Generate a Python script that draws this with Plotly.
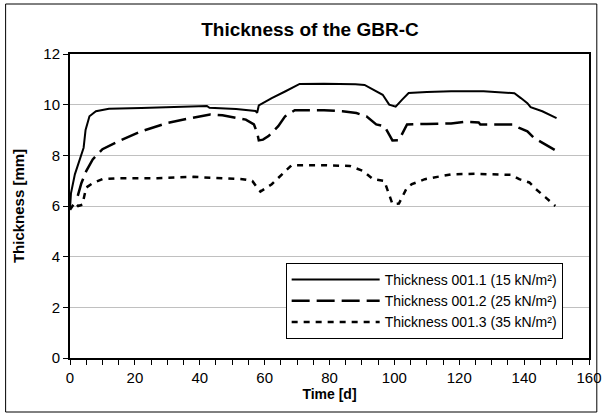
import plotly.graph_objects as go

# Series 1: Thickness 001.1 (15 kN/m²)
s1_time = [0, 0.3, 1.5, 3.5, 4.2, 4.8, 6, 8, 12, 22, 30, 39, 42.2, 43, 51.2, 57.2, 57.7, 58.2, 62.2, 66.3,
           70.8, 78.3, 85.3, 88, 90.8, 93.4, 96.4, 98.4, 100.4, 102.4, 104.4, 110, 117.5, 127.5, 132, 137,
           139, 141, 142, 145.6, 150]
s1_thick = [5.9, 6.5, 7.25, 7.97, 8.3, 9.0, 9.54, 9.74, 9.84, 9.87, 9.9, 9.93, 9.95, 9.88, 9.83, 9.75, 9.68,
            9.97, 10.26, 10.52, 10.82, 10.83, 10.82, 10.81, 10.78, 10.59, 10.39, 10.0, 9.92, 10.2, 10.46,
            10.5, 10.53, 10.53, 10.49, 10.45, 10.26, 10.06, 9.9, 9.74, 9.47]

# Series 2: Thickness 001.2 (25 kN/m²)
s2_time = [2.4, 3.5, 5, 7, 10, 15, 22, 30, 36, 43.2, 47, 54.2, 56.7, 57.7, 58.2, 59.5, 61.2, 64.2, 66.3,
           69.3, 78.3, 84, 88.3, 91.4, 94.4, 96.9, 98.4, 99.4, 101.4, 103.9, 110, 117.5, 121.5, 126, 126.5,
           136.5, 138.5, 141, 143, 146.6, 149.6]
s2_thick = [6.4, 6.9, 7.38, 7.84, 8.24, 8.56, 8.95, 9.28, 9.44, 9.61, 9.58, 9.41, 9.22, 8.89, 8.59, 8.62,
            8.76, 9.15, 9.54, 9.78, 9.78, 9.74, 9.67, 9.54, 9.22, 9.15, 8.82, 8.59, 8.6, 9.22, 9.24, 9.26,
            9.32, 9.3, 9.22, 9.22, 9.08, 8.95, 8.69, 8.43, 8.2]

# Series 3: Thickness 001.3 (35 kN/m²)
s3_time = [0, 0.5, 1.5, 2.5, 3.8, 5, 7, 10, 15, 27, 38, 53.2, 56.2, 57.7, 58.7, 62.2, 65.8, 68.3, 78.3,
           86.3, 90.4, 93.4, 96.9, 98.4, 99.4, 101.4, 103.9, 105.4, 109.4, 117.5, 125, 136, 138.5, 141.6,
           143.6, 146.6, 149.6]
s3_thick = [5.85, 5.95, 6.14, 6.0, 6.05, 6.73, 6.9, 7.06, 7.1, 7.1, 7.15, 7.06, 6.99, 6.73, 6.57, 6.86,
            7.32, 7.61, 7.61, 7.58, 7.38, 7.06, 6.99, 6.47, 6.08, 6.1, 6.73, 6.86, 7.06, 7.25, 7.27, 7.23,
            7.06, 6.93, 6.67, 6.34, 6.0]

series_names = ["Thickness 001.1 (15 kN/m²)", "Thickness 001.2 (25 kN/m²)", "Thickness 001.3 (35 kN/m²)"]

W, H = 613, 416
ML, MR, MT, MB = 70, 11, 54, 58
FONT = "Liberation Sans, Arial, sans-serif"

fig = go.Figure()
fig.add_trace(go.Scatter(x=s1_time, y=s1_thick, mode="lines", name=series_names[0],
                         line=dict(color="black", width=2)))
fig.add_trace(go.Scatter(x=s2_time, y=s2_thick, mode="lines", name=series_names[1],
                         line=dict(color="black", width=2.5, dash="18px,7px")))
fig.add_trace(go.Scatter(x=s3_time, y=s3_thick, mode="lines", name=series_names[2],
                         line=dict(color="black", width=2.5, dash="6px,6px")))

pw = W - ML - MR
ph = H - MT - MB

def px_x(p):
    return (p - ML) / pw

def px_y(p):
    return (H - MB - p) / ph

fig.update_layout(
    width=W, height=H,
    margin=dict(l=ML, r=MR, t=MT, b=MB),
    paper_bgcolor="white", plot_bgcolor="white",
    font=dict(family=FONT, size=15, color="black"),
    title=dict(text="<b>Thickness of the GBR-C</b>", x=px_x(316), xref="paper", xanchor="center",
               y=1 - 29 / H, yanchor="middle", font=dict(size=19, family=FONT)),
    xaxis=dict(range=[0, 160], dtick=20, tick0=0, ticks="outside", ticklen=5, tickwidth=1,
               tickcolor="black", showline=True, linecolor="black", linewidth=2, mirror=True,
               showgrid=False, zeroline=False,
               minor=dict(dtick=5, ticks="outside", ticklen=5, tickcolor="black", showgrid=False),
               title=dict(text="<b>Time [d]</b>", font=dict(size=14, family=FONT), standoff=0),
               tickfont=dict(size=15)),
    yaxis=dict(range=[0, 12], dtick=2, tick0=0, ticks="outside", ticklen=5, tickwidth=1,
               tickcolor="black", showline=True, linecolor="black", linewidth=2, mirror=True,
               showgrid=True, gridcolor="#c0c0c0", gridwidth=1, zeroline=False,
               title=dict(text="<b>Thickness [mm]</b>", font=dict(size=15, family=FONT), standoff=15),
               tickfont=dict(size=15)),
    legend=dict(x=px_x(575), xanchor="right", y=px_y(339), yanchor="bottom",
                bgcolor="white", bordercolor="black", borderwidth=1,
                font=dict(size=14, family=FONT), itemwidth=88, tracegroupgap=0),
    showlegend=True,
    shapes=[dict(type="rect", xref="paper", yref="paper",
                 x0=px_x(4), x1=px_x(610), y0=px_y(412), y1=px_y(4),
                 line=dict(color="black", width=1), fillcolor="rgba(0,0,0,0)", layer="below")],
)

fig.write_html("out.html", config={"displayModeBar": False},
               post_script="document.body.style.margin='0';document.body.style.overflow='hidden';")
